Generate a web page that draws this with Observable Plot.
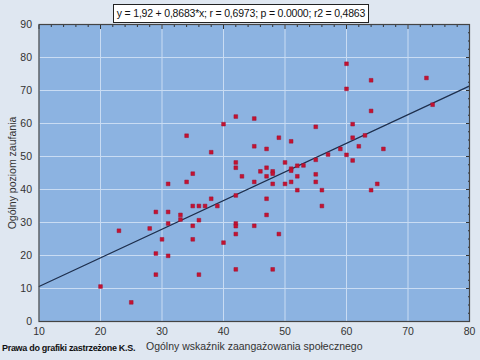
<!DOCTYPE html>
<html>
<head>
<meta charset="utf-8">
<script src="https://cdn.jsdelivr.net/npm/d3@7"></script>
<script src="https://cdn.jsdelivr.net/npm/@observablehq/plot@0.6"></script>
<style>
  html, body { margin: 0; padding: 0; background: #dfe7f1; }
  #wrap { position: relative; width: 480px; height: 360px; font-family: "Liberation Sans", Arial, sans-serif; }
  #title { position: absolute; left: 113px; top: 4px; width: 256px; height: 19px; box-sizing: border-box;
           border: 1px solid #222; background: #fff; font-size: 10.5px; line-height: 17px; text-align: center; color: #111; white-space: nowrap; letter-spacing: -0.2px; }
  #credit { position: absolute; left: 2px; top: 343px; font-size: 9px; font-weight: bold; color: #111; white-space: nowrap; letter-spacing: -0.3px; }
</style>
</head>
<body>
<div id="wrap">
  <div id="chart"></div>
  <div id="title"></div>
  <div id="credit"></div>
</div>
<script>
const xVals = [20,25,23,28,29,29,29,30,31,31,31,31,33,33,34,34,35,35,35,35,36,36,36,37,38,38,39,40,40,
  42,42,42,42,42,42,42,42,43,45,45,45,45,46,47,47,47,47,47,48,48,48,48,49,49,50,50,51,51,51,51,52,52,52,53,
  55,55,55,55,56,56,57,59,60,60,60,61,61,61,62,63,64,64,64,65,66,73,74];
const yVals = [10.6,5.8,27.5,28.2,33.2,20.6,14.2,24.9,41.7,33.2,29.7,19.9,32.3,30.9,56.3,42.3,44.8,35.0,29.0,24.9,35.0,30.7,14.2,35.0,51.3,37.2,35.0,59.8,23.9,
  62.1,48.2,46.6,38.2,29.7,28.9,26.5,15.8,44.0,61.5,53.1,42.3,29.0,45.5,52.3,46.6,44.0,37.2,32.3,45.5,44.8,41.7,15.8,55.7,26.5,48.2,41.7,54.6,46.3,45.7,42.3,47.2,44.0,39.8,47.3,
  59.0,49.0,44.6,42.3,39.8,35.0,50.6,52.3,78.1,70.5,50.5,59.8,55.7,48.8,53.1,56.4,73.1,63.8,39.8,41.7,52.3,73.8,65.7];
const intercept = 1.92;
const slope = 0.8683;
const lineXs = [10, 80];
const xTicks = [10,20,30,40,50,60,70,80];
const yTicks = [0,10,20,30,40,50,60,70,80,90];
const xMinor = [12,14,16,18,22,24,26,28,32,34,36,38,42,44,46,48,52,54,56,58,62,64,66,68,72,74,76,78];
const yMinor = [2.5,5,7.5,12.5,15,17.5,22.5,25,27.5,32.5,35,37.5,42.5,45,47.5,52.5,55,57.5,62.5,65,67.5,72.5,75,77.5,82.5,85,87.5];
const titleText = "y = 1,92 + 0,8683*x;  r = 0,6973; p = 0.0000; r2 = 0,4863";
const xLabel = "Ogólny wskaźnik zaangażowania społecznego";
const yLabel = "Ogólny poziom zaufania";
const creditText = "Prawa do grafiki zastrzeżone K.S.";

const points = xVals.map((x, i) => ({x, y: yVals[i]}));
const fit = lineXs.map(x => ({x, y: intercept + slope * x}));

const chart = Plot.plot({
  width: 480,
  height: 360,
  marginLeft: 38.5,
  marginRight: 11,
  marginTop: 24,
  marginBottom: 39,
  style: { background: "transparent", fontFamily: "Liberation Sans, Arial, sans-serif", fontSize: "10.5px", color: "#333" },
  x: { domain: [10, 80], ticks: xTicks },
  y: { domain: [0, 90], ticks: yTicks },
  marks: [
    Plot.frame({ fill: "#8cb3e1" }),
    Plot.gridX(xTicks, { stroke: "#c9dcf3", strokeOpacity: 1, strokeWidth: 1 }),
    Plot.gridY(yTicks, { stroke: "#c9dcf3", strokeOpacity: 1, strokeWidth: 1 }),
    Plot.axisX(xTicks, { tickSize: 0, tickPadding: 6, fill: "#333", label: xLabel, labelAnchor: "center", labelOffset: 28, labelArrow: "none", dx: 0 }),
    Plot.axisY(yTicks, { tickSize: 0, tickPadding: 7, fill: "#333", label: yLabel, labelAnchor: "center", labelOffset: 30, labelArrow: "none" }),
    Plot.axisX(xTicks, { anchor: "top", tickSize: -4, text: null, label: null, stroke: "#333" }),
    Plot.axisX(xMinor, { anchor: "top", tickSize: -2, text: null, label: null, stroke: "#333" }),
    Plot.axisY(yTicks, { anchor: "right", tickSize: -4, text: null, label: null, stroke: "#333" }),
    Plot.axisY(yMinor, { anchor: "right", tickSize: -2, text: null, label: null, stroke: "#333" }),
    Plot.line(fit, { x: "x", y: "y", stroke: "#1e2f4d", strokeWidth: 1.3, clip: true }),
    Plot.dot(points, { x: "x", y: "y", symbol: "square", r: 2.1, fill: "#c41231", stroke: "#a01030", strokeWidth: 0.5 }),
    Plot.frame({ stroke: "#444", strokeWidth: 1.2 })
  ]
});
document.getElementById("chart").appendChild(chart);
document.getElementById("title").textContent = titleText;
document.getElementById("credit").textContent = creditText;
</script>
</body>
</html>
